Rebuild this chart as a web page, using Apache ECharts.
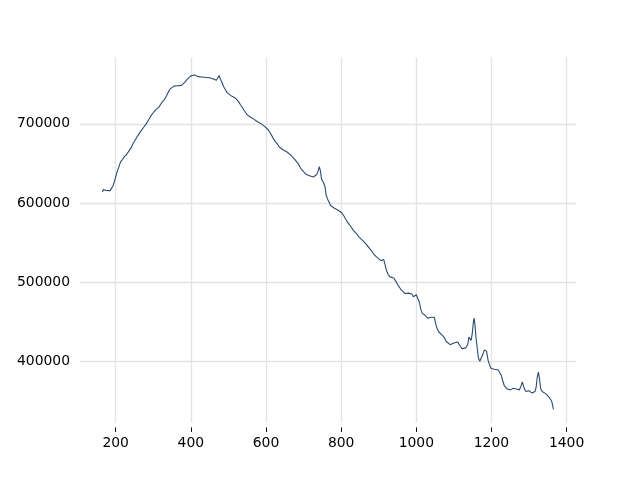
<!DOCTYPE html>
<html>
<head>
<meta charset="utf-8">
<script src="https://cdn.jsdelivr.net/npm/echarts@6/dist/echarts.min.js"></script>
<style>
html,body{margin:0;padding:0;background:#fff;}
#chart{width:640px;height:480px;}
</style>
</head>
<body>
<div id="chart"></div>
<script>
const xValues = [165,167,170,175,180,185,189,193,197,200,204,208,213,218,222,226,230,235,240,245,250,255,260,265,270,275,280,285,290,295,300,305,310,315,320,325,330,335,340,345,350,355,360,365,370,375,380,385,390,395,400,405,410,415,420,425,430,435,440,445,450,455,460,465,468,472,475,478,482,487,492,497,502,507,512,517,522,527,532,537,541,546,551,556,560,566,571,576,581,586,591,596,601,606,611,616,621,626,631,636,641,646,651,656,661,666,671,676,681,686,691,696,701,706,711,716,721,726,731,735,739,742,745,748,752,757,760,764,768,772,777,782,787,792,797,802,807,812,817,822,827,832,837,842,847,852,857,862,867,872,877,882,887,892,897,902,906,910,913,916,920,925,930,935,940,945,950,955,960,965,970,975,980,984,988,992,996,1000,1004,1008,1012,1016,1020,1025,1030,1035,1040,1045,1048,1052,1056,1060,1065,1070,1075,1080,1085,1090,1095,1100,1105,1110,1113,1117,1122,1127,1132,1137,1140,1143,1146,1149,1152,1154,1156,1159,1162,1165,1169,1173,1177,1181,1184,1187,1191,1195,1199,1203,1208,1213,1218,1222,1226,1230,1234,1238,1242,1246,1250,1254,1258,1262,1266,1270,1274,1278,1282,1285,1288,1292,1296,1300,1304,1308,1312,1316,1319,1322,1325,1328,1331,1335,1340,1345,1349,1353,1357,1360,1363,1365];
const yValues = [614000,617000,615500,616000,615000,615800,617000,622000,628000,633000,640000,645000,652000,655000,658000,659500,662000,665500,669000,674000,678000,682000,686000,689500,692000,696000,699000,703000,707000,711000,714000,717000,718500,721000,725000,728000,731000,735000,740000,744000,746500,747500,746800,748000,747500,748500,750500,753000,756000,758500,760500,762000,761500,761000,759500,760500,759000,760000,758500,759500,758000,758800,756500,757500,755000,758000,761000,757000,753000,747000,743000,739000,737500,735500,734000,733000,730500,728000,724000,720500,717500,714000,711000,709000,708000,706500,705000,703000,701500,700500,698500,696800,695000,692500,688500,684500,680000,677500,674000,670500,669500,667000,666000,664500,663000,660500,658000,655500,653000,649500,645000,641500,640000,636500,635000,634500,634000,633000,632500,636000,641000,646000,640000,630000,627000,621000,610000,605000,601000,597000,595000,593500,592500,591000,589500,587500,584000,580000,576000,573000,569500,566000,563500,561000,557500,555000,553000,550500,548000,545500,542000,539000,535500,533000,531000,528500,527500,529500,529000,524000,516000,510000,507000,506000,505500,502000,497500,494000,490500,488000,486000,484500,486500,488500,485500,482000,481500,484500,483500,475000,466000,461000,459500,458000,455000,454500,456000,458500,456000,447000,441000,437500,436000,433000,430000,425500,423000,421500,423000,423500,422500,425000,423500,419500,416500,416000,417500,422000,431000,430000,427000,436000,450000,455000,447000,430000,418000,405000,400500,403000,409000,415000,417000,413000,402000,396000,391500,390500,390500,391000,389500,388000,383000,376000,370000,367500,365500,366500,364500,365000,366500,367500,365500,364000,364500,368000,374500,372000,365500,362500,361000,363500,363000,360500,361500,362500,368000,381000,387000,378000,366000,362500,362000,359500,357000,355500,353000,350500,344500,340000];
const xTicks = [200,400,600,800,1000,1200,1400];
const yTicks = [400000,500000,600000,700000];

const seriesData = xValues.map((x, i) => [x, yValues[i]]);
const chart = echarts.init(document.getElementById('chart'), null, {renderer: 'canvas'});
const font = {fontFamily: 'DejaVu Sans', fontSize: 13.9, color: '#000'};
chart.setOption({
  animation: false,
  backgroundColor: '#fff',
  grid: {left: 80, right: 64, top: 57.6, bottom: 57.6, containLabel: false},
  xAxis: {
    type: 'value', min: 105, max: 1425, offset: 5,
    axisLine: {show: false},
    axisTick: {show: true, length: 4.5, lineStyle: {color: '#000', width: 1}, customValues: xTicks},
    axisLabel: Object.assign({margin: 9, customValues: xTicks, formatter: v => String(v)}, font),
    splitLine: {show: true, lineStyle: {color: '#e3e3e3', width: 1.3}}
  },
  yAxis: {
    type: 'value', min: 323500, max: 783500,
    axisLine: {show: false},
    axisTick: {show: false, customValues: yTicks},
    axisLabel: Object.assign({margin: 10, customValues: yTicks, formatter: v => String(v)}, font),
    splitLine: {show: true, lineStyle: {color: '#e3e3e3', width: 1.3}}
  },
  series: [{
    type: 'line', data: seriesData, showSymbol: false, symbol: 'none',
    lineStyle: {color: '#2c4a70', width: 1.1}
  }]
});
</script>
</body>
</html>
